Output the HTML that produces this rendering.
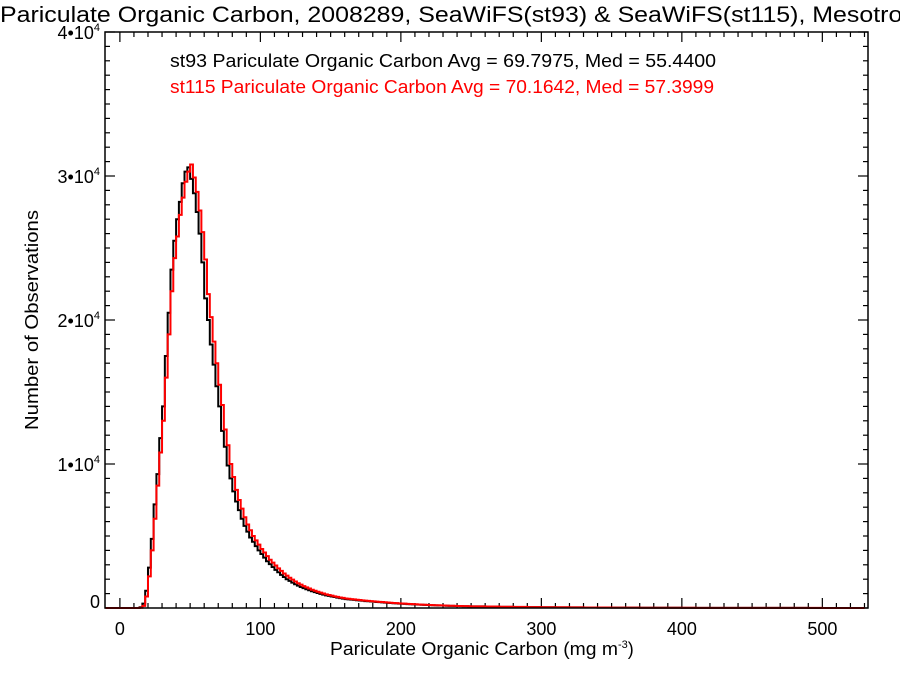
<!DOCTYPE html>
<html><head><meta charset="utf-8"><style>
body{margin:0;background:#fff}
svg{display:block;font-family:"Liberation Sans",Helvetica,sans-serif}
</style></head><body>
<svg id="chart" width="900" height="675" viewBox="0 0 900 675" xmlns="http://www.w3.org/2000/svg">
<text x="0" y="22" font-size="22" textLength="948" lengthAdjust="spacingAndGlyphs" fill="#000">Pariculate Organic Carbon, 2008289, SeaWiFS(st93) &amp; SeaWiFS(st115), Mesotrophic</text>
<text x="170" y="67" font-size="18" textLength="546" lengthAdjust="spacingAndGlyphs" fill="#000">st93 Pariculate Organic Carbon Avg = 69.7975, Med = 55.4400</text>
<text x="170" y="93" font-size="18" textLength="544" lengthAdjust="spacingAndGlyphs" fill="#ff0000">st115 Pariculate Organic Carbon Avg = 70.1642, Med = 57.3999</text>
<text x="330" y="655" font-size="18"><tspan textLength="288" lengthAdjust="spacingAndGlyphs">Pariculate Organic Carbon (mg m</tspan><tspan font-size="11" dy="-7">-3</tspan><tspan dy="7">)</tspan></text>
<text transform="translate(38,320) rotate(-90)" font-size="18" text-anchor="middle" textLength="220" lengthAdjust="spacingAndGlyphs">Number of Observations</text>
<g id="ticks"></g><g id="series"></g>
<rect x="105" y="32" width="763" height="576" fill="none" stroke="#000" stroke-width="1.5"/>
</svg>
<script>
const st93Counts=[0,0,50,300,1200,2800,4800,7200,9300,11800,14000,17500,20500,23500,25500,27000,28200,29500,30300,30600,29800,28800,27500,26000,24000,21500,20000,18300,16900,15400,14000,12300,11200,9900,9000,8100,7400,6800,6200,5700,5300,4900,4600,4300,4000,3750,3500,3250,3050,2850,2650,2480,2300,2150,2000,1880,1760,1650,1550,1460,1380,1300,1230,1160,1100,1040,980,930,880,840,800,760,720,690,650,620,600,580,560,540,520,500,480,465,450,435,420,405,390,375,360,345,330,318,306,295,284,273,262,252,242,233,224,215,207,199,191,184,177,170,163,157,151,145,140,135,130,125,120,116];
const st93Tail=[110,95,82,70,60,52,46,40,35,30,26,22,19,17,15,13,11,10,9,8,7,6,5,5,4,4,3,3];
const st115Counts=[0,0,20,150,800,2200,4000,6200,8500,10800,13000,16000,19000,22000,24300,25800,27300,28500,29600,30300,30800,29900,28900,27600,26100,24200,21800,20200,18500,17000,15500,14100,12400,11300,10000,9100,8200,7500,6900,6300,5800,5400,5000,4700,4400,4100,3850,3600,3350,3150,2950,2750,2580,2400,2250,2100,1970,1840,1720,1620,1520,1430,1350,1270,1200,1130,1070,1010,950,900,860,810,770,730,700,660,640,615,595,575,552,530,510,493,477,461,445,429,413,397,382,366,350,337,324,313,301,289,278,267,257,247,237,228,219,211,202,195,188,180,173,166,160,154,148,143,138,133,127,123];
const st115Tail=[117,100,87,74,64,55,49,42,37,32,28,23,20,18,16,14,12,11,10,9,8,7,6,5,5,4,4,3];
const xTickLabels=["0","100","200","300","400","500"];
const yTickLabels=["0","1•10","2•10","3•10","4•10"];
const NS="http://www.w3.org/2000/svg";
const X0=105,X1=868,Y0=608,Y1=32,XMIN=-10.6,XMAX=532.5,YMAX=40000;
const sx=v=>X0+(v-XMIN)/(XMAX-XMIN)*(X1-X0);
const sy=v=>Y0-v/YMAX*(Y0-Y1);
const tg=document.getElementById('ticks');
function line(x1,y1,x2,y2,name){const l=document.createElementNS(NS,'line');
l.setAttribute('x1',x1);l.setAttribute('y1',y1);l.setAttribute('x2',x2);l.setAttribute('y2',y2);
l.setAttribute('stroke','#000');l.setAttribute('stroke-width','1.2');


tg.appendChild(l);}
for(let v=0;v<=530;v+=10){const x=sx(v),L=v%100===0?10:5;line(x,Y0,x,Y0-L,'x-tick');line(x,Y1,x,Y1+L,'x-tick-top');}
for(let v=0;v<=40000;v+=1000){const y=sy(v),L=v%10000===0?10:5;line(X0,y,X0+L,y,'y-tick');line(X1,y,X1-L,y,'y-tick-right');}
xTickLabels.forEach((s,i)=>{const t=document.createElementNS(NS,'text');
t.setAttribute('x',sx(i*100));t.setAttribute('y',635);t.setAttribute('font-size','18');t.setAttribute('text-anchor','middle');t.textContent=s;


tg.appendChild(t);});
yTickLabels.forEach((s,i)=>{const t=document.createElementNS(NS,'text');
t.setAttribute('x',100);t.setAttribute('y',sy(i*10000)+(i===0?0:7));t.setAttribute('font-size','18');t.setAttribute('text-anchor','end');
if(i===0){t.textContent=s;}else{t.innerHTML=s+'<tspan font-size="11" dy="-8">4</tspan>';}


tg.appendChild(t);});
function draw(counts,tail,color,name){
 let d='M'+sx(XMIN+0.5)+','+sy(0)+' L'+sx(10)+','+sy(0);
 counts.forEach((c,i)=>{const a=10+2*i;d+=' L'+sx(a)+','+sy(c)+' L'+sx(a+2)+','+sy(c);});
 const start=10+2*counts.length;
 tail.forEach((c,i)=>{const a=start+10*i;d+=' L'+sx(a)+','+sy(c)+' L'+sx(Math.min(a+10,XMAX))+','+sy(c);});
 const p=document.createElementNS(NS,'path');p.setAttribute('d',d);p.setAttribute('fill','none');
 p.setAttribute('stroke',color);p.setAttribute('stroke-width','2');
 
 
 document.getElementById('series').appendChild(p);}
draw(st93Counts,st93Tail,'#000','st93-histogram');
draw(st115Counts,st115Tail,'#ff0000','st115-histogram');
</script>
</body></html>
